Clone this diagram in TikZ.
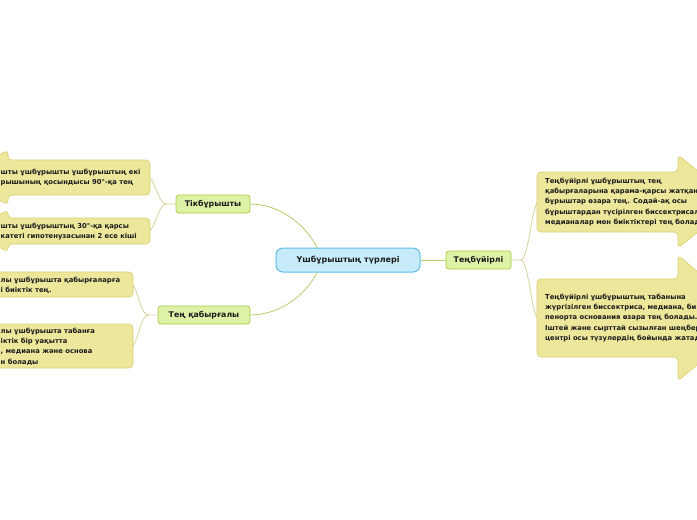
\documentclass[tikz,border=0pt]{standalone}
\usepackage{fontspec}
\setmainfont{DejaVu Sans}
\definecolor{rootf}{HTML}{C8EBFA}
\definecolor{rootb}{HTML}{5CBEE8}
\definecolor{topf}{HTML}{DDF2A6}
\definecolor{topb}{HTML}{A8CC42}
\definecolor{notef}{HTML}{EDE79C}
\definecolor{noteb}{HTML}{D8CF72}
\definecolor{mainc}{HTML}{B4CE6A}
\definecolor{subc}{HTML}{D9D19C}
\definecolor{txt}{HTML}{1A1A1A}
\begin{document}
\begin{tikzpicture}[x=1pt,y=-1pt,
  root/.style={draw=rootb, fill=rootf, rounded corners=7pt, line width=1pt, minimum width=144pt, minimum height=24pt, inner sep=0pt, font=\fontsize{8}{10}\selectfont\bfseries, text=txt},
  topic/.style={draw=topb, fill=topf, rounded corners=3pt, line width=0.8pt, minimum height=18pt, inner sep=0pt, font=\fontsize{7.8}{10}\selectfont\bfseries, text=txt},
  note/.style={draw=noteb, fill=notef, line width=0.6pt, rounded corners=4pt},
  notetext/.style={align=left, anchor=west, inner sep=0pt, font=\fontsize{6.8}{10.4}\selectfont\bfseries, text=txt},
  mainline/.style={draw=mainc, line width=0.8pt},
  subline/.style={draw=subc, line width=0.8pt}
]
\useasboundingbox[fill=white] (0,0) rectangle (697,520);

% callout shapes
\draw[note] (537,172) -- (678,172) -- (678,155) -- (736,201.5) -- (678,248) -- (678,232) -- (537,232) -- cycle;
\draw[note] (537,279) -- (678,279) -- (678,255) -- (752,318) -- (678,381) -- (678,357) -- (537,357) -- cycle;
\draw[note] (150,160) -- (8,160) -- (8,150) -- (-40,177.5) -- (8,205) -- (8,195) -- (150,195) -- cycle;
\draw[note] (150,218) -- (8,218) -- (8,210) -- (-30,231) -- (8,252) -- (8,244) -- (150,244) -- cycle;
\draw[note] (-10,272) rectangle (133,297);
\draw[note] (-10,324) rectangle (133,368);

\coordinate (r1l) at (537,203);
\coordinate (r2l) at (537,318);
\coordinate (l1r) at (150,178);
\coordinate (l2r) at (150,231);
\coordinate (l3r) at (133,285);
\coordinate (l4r) at (133,346);

% texts
\node[notetext] (r1) at (545,202) {Теңбүйірлі ұшбұрыштың тең\\қабырғаларына қарама-қарсы жатқан\\бұрыштар өзара тең. Содай-ақ осы\\бұрыштардан түсірілген биссектрисал\\медианалар мен биіктіктері тең болад};
\node[notetext] (r2) at (545,318) {Теңбүйірлі ұшбұрыштың табанына\\жүргізілген биссектриса, медиана, би\\пенорта основания өзара тең болады.\\Іштей және сырттай сызылған шеңбер\\центрі осы түзулердің бойында жатад};
\node[notetext] (l1) at (0.5,177.5) {шты ұшбұрышты ұшбұрыштың екі\\рышының қосындысы 90°-қа тең};
\node[notetext] (l2) at (0.5,231.5) {шты ұшбұрыштың 30°-қа қарсы\\катеті гипотенузасынан 2 есе кіші};
\node[notetext] (l3) at (0.5,285) {лы ұшбұрышта қабырғаларға\\і биіктік тең.};
\node[notetext] (l4) at (0.5,346.5) {лы ұшбұрышта табанға\\іктік бір уақытта\\, медиана және основа\\н болады};

% main nodes
\node[root] (root) at (348,260) {Үшбұрыштың түрлері};
\node[topic, minimum width=74pt] (tik) at (213,204) {Тікбұрышты};
\node[topic, minimum width=92pt] (teng) at (204,315) {Тең қабырғалы};
\node[topic, minimum width=65pt] (tenb) at (478.5,260) {Теңбүйірлі};

% connectors
\draw[mainline] ([xshift=-31pt]root.north) .. controls +(-12,-24) and +(28,0) .. (tik.east);
\draw[mainline] ([xshift=-31pt]root.south) .. controls +(-12,24) and +(28,0) .. (teng.east);
\draw[mainline] (root.east) -- (tenb.west);

\draw[subline] (tik.west) -- ++(-9,0) coordinate (f1) .. controls +(-8,0) and +(6,6) .. (l1r);
\draw[subline] (f1) .. controls +(-8,0) and +(6,-6) .. (l2r);
\draw[subline] (teng.west) -- ++(-9,0) coordinate (f2) .. controls +(-8,0) and +(6,8) .. (l3r);
\draw[subline] (f2) .. controls +(-8,0) and +(6,-8) .. (l4r);
\draw[subline] (tenb.east) -- ++(9,0) coordinate (f3) .. controls +(8,0) and +(-6,10) .. (r1l);
\draw[subline] (f3) .. controls +(8,0) and +(-6,-10) .. (r2l);
\end{tikzpicture}
\end{document}
